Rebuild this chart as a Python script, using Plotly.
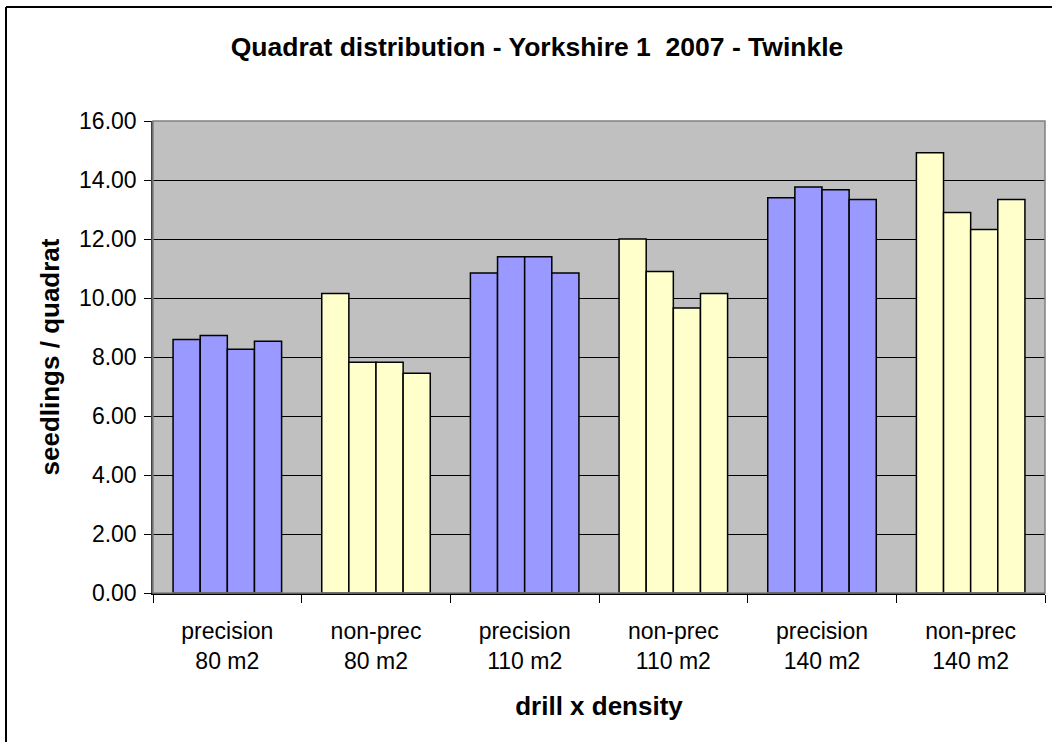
import plotly.graph_objects as go

categories = ["precision<br>80 m2", "non-prec<br>80 m2", "precision<br>110 m2",
              "non-prec<br>110 m2", "precision<br>140 m2", "non-prec<br>140 m2"]
quadrat_1 = [8.59, 10.15, 10.85, 12.00, 13.40, 14.92]
quadrat_2 = [8.73, 7.82, 11.40, 10.90, 13.76, 12.90]
quadrat_3 = [8.26, 7.82, 11.40, 9.66, 13.67, 12.32]
quadrat_4 = [8.53, 7.45, 10.85, 10.15, 13.34, 13.34]
series = [quadrat_1, quadrat_2, quadrat_3, quadrat_4]
series_names = ["Quadrat 1", "Quadrat 2", "Quadrat 3", "Quadrat 4"]
y_ticks = [0, 2, 4, 6, 8, 10, 12, 14, 16]

BLUE = "#9999FF"
YELLOW = "#FFFFCC"
bar_colors = [BLUE if c.startswith("precision") else YELLOW for c in categories]

FONT = "Liberation Sans, Arial, sans-serif"
W, H = 1052, 742
L, R, T, B = 153, 7, 121, 149
pw, ph = W - L - R, H - T - B

fig = go.Figure()
for name, vals in zip(series_names, series):
    fig.add_trace(go.Bar(
        x=categories, y=vals, name=name,
        marker=dict(color=bar_colors, line=dict(color="#000000", width=1.5)),
        showlegend=False,
    ))

fig.update_layout(
    width=W, height=H,
    margin=dict(l=L, r=R, t=T, b=B, autoexpand=False),
    paper_bgcolor="white",
    plot_bgcolor="#C0C0C0",
    barmode="group", bargap=0.27, bargroupgap=0,
    font=dict(family=FONT, size=23, color="black"),
    title=dict(text="<b>Quadrat distribution - Yorkshire 1  2007 - Twinkle</b>",
               x=537 / W, xanchor="center",
               y=1 - 47 / H, yanchor="middle",
               font=dict(family=FONT, size=26.5, color="black")),
    xaxis=dict(
        type="category", tickson="boundaries", ticks="outside", ticklen=8,
        tickcolor="#000000", showline=True, linecolor="#000000", linewidth=1.5,
        showgrid=False, tickfont=dict(size=23), automargin=False,
        ticklabelstandoff=17,
        title=dict(text="<b>drill x density</b>", font=dict(size=26), standoff=24),
    ),
    yaxis=dict(
        range=[0, 16], tickvals=y_ticks, tickformat=".2f",
        ticks="outside", ticklen=7, tickcolor="#000000",
        showline=True, linecolor="#404040", linewidth=1.5,
        gridcolor="#000000", gridwidth=1, zeroline=False,
        tickfont=dict(size=23), automargin=False, ticklabelstandoff=3,
        title=dict(text="<b>seedlings / quadrat</b>", font=dict(size=26), standoff=12),
    ),
    shapes=[
        dict(type="rect", xref="paper", yref="paper", x0=0, x1=1, y0=0, y1=1,
             line=dict(color="#808080", width=1.5), layer="above"),
        dict(type="line", xref="paper", yref="paper",
             x0=(6 - L) / pw, x1=(6 - L) / pw, y0=-B / ph - 0.01, y1=1 + (T - 7) / ph,
             line=dict(color="#000000", width=2)),
        dict(type="line", xref="paper", yref="paper",
             x0=(6 - L) / pw, x1=1 + R / pw, y0=1 + (T - 7) / ph, y1=1 + (T - 7) / ph,
             line=dict(color="#000000", width=2)),
    ],
)

fig.write_html("out.html", config={"displayModeBar": False},
               post_script="document.body.style.margin='0';document.body.style.overflow='hidden';")
